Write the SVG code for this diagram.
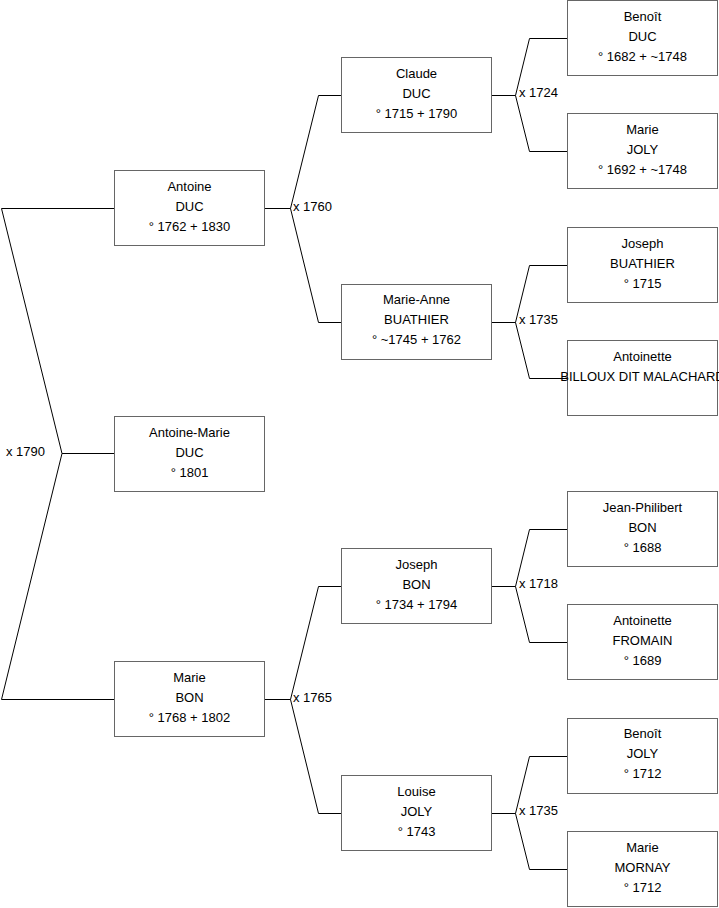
<svg xmlns="http://www.w3.org/2000/svg" width="719" height="908" viewBox="0 0 719 908">
<style>
.box{fill:#fff;stroke:#666;stroke-width:1}
.t{font-family:"Liberation Sans",Arial,sans-serif;font-size:13px;fill:#000;text-anchor:middle}
.l{font-family:"Liberation Sans",Arial,sans-serif;font-size:13px;fill:#000}
.c{fill:none;stroke:#000;stroke-width:1}
</style>
<rect width="719" height="908" fill="#fff"/>
<g id="connectors">
<path class="c" d="M114,208.5H1.5L62,453.5H114M62,453.5L1.5,699.5H114"/>
<path class="c" d="M265,208.5H290.5L318.5,95.5H341M290.5,208.5L318.5,322.5H341"/>
<path class="c" d="M265,699.5H290.5L318.5,586.5H341M290.5,699.5L318.5,813.5H341"/>
<path class="c" d="M492,95.5H515.5L529.5,38.5H567M515.5,95.5L529.5,151.5H567"/>
<path class="c" d="M492,322.5H515.5L529.5,265.5H567M515.5,322.5L529.5,378.5H567"/>
<path class="c" d="M492,586.5H515.5L529.5,529.5H567M515.5,586.5L529.5,642.5H567"/>
<path class="c" d="M492,813.5H515.5L529.5,756.5H567M515.5,813.5L529.5,869.5H567"/>
<text class="l" x="6" y="456">x 1790</text>
<text class="l" x="293" y="211">x 1760</text>
<text class="l" x="293" y="702">x 1765</text>
<text class="l" x="519" y="97">x 1724</text>
<text class="l" x="519" y="324">x 1735</text>
<text class="l" x="519" y="588">x 1718</text>
<text class="l" x="519" y="815">x 1735</text>
</g>
<g id="antoine-duc"><rect class="box" x="114.5" y="170.5" width="150" height="75"/><text class="t" x="189.5" y="191">Antoine</text><text class="t" x="189.5" y="211">DUC</text><text class="t" x="189.5" y="231">° 1762 + 1830</text></g>
<g id="antoine-marie-duc"><rect class="box" x="114.5" y="416.5" width="150" height="75"/><text class="t" x="189.5" y="437">Antoine-Marie</text><text class="t" x="189.5" y="457">DUC</text><text class="t" x="189.5" y="477">° 1801</text></g>
<g id="marie-bon"><rect class="box" x="114.5" y="661.5" width="150" height="75"/><text class="t" x="189.5" y="682">Marie</text><text class="t" x="189.5" y="702">BON</text><text class="t" x="189.5" y="722">° 1768 + 1802</text></g>
<g id="claude-duc"><rect class="box" x="341.5" y="57.5" width="150" height="75"/><text class="t" x="416.5" y="78">Claude</text><text class="t" x="416.5" y="98">DUC</text><text class="t" x="416.5" y="118">° 1715 + 1790</text></g>
<g id="marie-anne-buathier"><rect class="box" x="341.5" y="284.5" width="150" height="75"/><text class="t" x="416.5" y="304">Marie-Anne</text><text class="t" x="416.5" y="324">BUATHIER</text><text class="t" x="416.5" y="344">° ~1745 + 1762</text></g>
<g id="joseph-bon"><rect class="box" x="341.5" y="548.5" width="150" height="75"/><text class="t" x="416.5" y="569">Joseph</text><text class="t" x="416.5" y="589">BON</text><text class="t" x="416.5" y="609">° 1734 + 1794</text></g>
<g id="louise-joly"><rect class="box" x="341.5" y="775.5" width="150" height="75"/><text class="t" x="416.5" y="796">Louise</text><text class="t" x="416.5" y="816">JOLY</text><text class="t" x="416.5" y="836">° 1743</text></g>
<g id="benoit-duc"><rect class="box" x="567.5" y="0.5" width="150" height="75"/><text class="t" x="642.5" y="21">Benoît</text><text class="t" x="642.5" y="41">DUC</text><text class="t" x="642.5" y="61">° 1682 + ~1748</text></g>
<g id="marie-joly"><rect class="box" x="567.5" y="113.5" width="150" height="75"/><text class="t" x="642.5" y="134">Marie</text><text class="t" x="642.5" y="154">JOLY</text><text class="t" x="642.5" y="174">° 1692 + ~1748</text></g>
<g id="joseph-buathier"><rect class="box" x="567.5" y="227.5" width="150" height="75"/><text class="t" x="642.5" y="248">Joseph</text><text class="t" x="642.5" y="268">BUATHIER</text><text class="t" x="642.5" y="288">° 1715</text></g>
<g id="antoinette-billoux"><rect class="box" x="567.5" y="340.5" width="150" height="75"/><text class="t" x="642.5" y="361">Antoinette</text><text class="t" x="642.5" y="381">BILLOUX DIT MALACHARD</text></g>
<g id="jean-philibert-bon"><rect class="box" x="567.5" y="491.5" width="150" height="75"/><text class="t" x="642.5" y="512">Jean-Philibert</text><text class="t" x="642.5" y="532">BON</text><text class="t" x="642.5" y="552">° 1688</text></g>
<g id="antoinette-fromain"><rect class="box" x="567.5" y="604.5" width="150" height="75"/><text class="t" x="642.5" y="625">Antoinette</text><text class="t" x="642.5" y="645">FROMAIN</text><text class="t" x="642.5" y="665">° 1689</text></g>
<g id="benoit-joly"><rect class="box" x="567.5" y="718.5" width="150" height="75"/><text class="t" x="642.5" y="738">Benoît</text><text class="t" x="642.5" y="758">JOLY</text><text class="t" x="642.5" y="778">° 1712</text></g>
<g id="marie-mornay"><rect class="box" x="567.5" y="831.5" width="150" height="75"/><text class="t" x="642.5" y="852">Marie</text><text class="t" x="642.5" y="872">MORNAY</text><text class="t" x="642.5" y="892">° 1712</text></g>
</svg>
